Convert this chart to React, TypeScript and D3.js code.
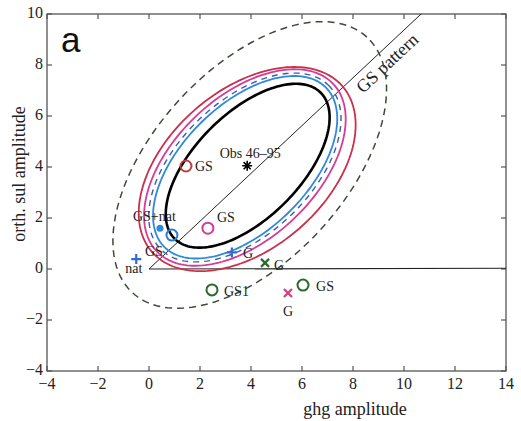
import React from "react";
import * as d3 from "d3";

// ---- data ----
const xTicks = [-4, -2, 0, 2, 4, 6, 8, 10, 12, 14];
const yTicks = [-4, -2, 0, 2, 4, 6, 8, 10];

// ellipses: centre, semi-major, semi-minor, angle(deg)
const ellipseNames = ["outer", "red", "magenta", "blueDashed", "blue", "black"];
const ellipseCx = [3.95, 3.85, 3.76, 3.76, 3.77, 3.87];
const ellipseCy = [4.08, 3.92, 3.98, 3.98, 3.99, 4.05];
const ellipseA = [6.8, 4.95, 4.77, 4.6, 4.45, 4.05];
const ellipseB = [3.76, 3.1, 2.78, 2.6, 2.46, 2.06];
const ellipseAng = [47.5, 41, 43.5, 44, 44.5, 45];

// GS pattern line & zero line
const gsLine = [[0, 0], [10.67, 10]];
const zeroLine = [[0, 0], [14, 0.03]];

// markers
const points = [
  { id: "obs", x: 3.85, y: 4.05, label: "Obs 46–95" },
  { id: "gsRed", x: 1.45, y: 4.04, label: "GS" },
  { id: "gsMag", x: 2.31, y: 1.6, label: "GS" },
  { id: "gsNat", x: 0.43, y: 1.6, label: "GS+nat" },
  { id: "gsBlue", x: 0.9, y: 1.33, label: "GS" },
  { id: "natBlue", x: -0.5, y: 0.39, label: "nat" },
  { id: "gBlue", x: 3.25, y: 0.65, label: "G" },
  { id: "gGreen", x: 4.55, y: 0.24, label: "G" },
  { id: "gs1Green", x: 2.47, y: -0.82, label: "GS1" },
  { id: "gsGreen", x: 6.04, y: -0.63, label: "GS" },
  { id: "gMag", x: 5.45, y: -0.94, label: "G" },
];

// ---- styles ----
const ellipseStyle: Record<string, { c: string; w: number; dash?: string }> = {
  outer: { c: "#3c4a3a", w: 1.5, dash: "7,5" },
  red: { c: "#c9304c", w: 1.8 },
  magenta: { c: "#d43c96", w: 1.8 },
  blueDashed: { c: "#3a5cb0", w: 1.4, dash: "6,5" },
  blue: { c: "#2e8ad8", w: 1.8 },
  black: { c: "#000000", w: 2.6 },
};

const markerStyle: Record<string, { kind: string; c: string; dx: number; dy: number; anchor?: string }> = {
  obs: { kind: "star", c: "#000", dx: 3, dy: -8, anchor: "middle" },
  gsRed: { kind: "circle", c: "#b8403a", dx: 9, dy: 5 },
  gsMag: { kind: "circle", c: "#d43c96", dx: 9, dy: -6 },
  gsNat: { kind: "dot", c: "#2e8ad8", dx: -27, dy: -7 },
  gsBlue: { kind: "circle", c: "#2e7ad8", dx: -27, dy: 21 },
  natBlue: { kind: "plus", c: "#2e6ad0", dx: -11, dy: 14 },
  gBlue: { kind: "plus", c: "#3a6ad0", dx: 11, dy: 6 },
  gGreen: { kind: "x", c: "#2a6a2a", dx: 9, dy: 7 },
  gs1Green: { kind: "circle", c: "#2a6a2a", dx: 12, dy: 6 },
  gsGreen: { kind: "circle", c: "#2a6a2a", dx: 13, dy: 6 },
  gMag: { kind: "x", c: "#d43c80", dx: 0, dy: 23, anchor: "middle" },
};

const W = 521;
const H = 421;
const serif = "'Liberation Serif', 'DejaVu Serif', serif";

export default function App() {
  const x = d3.scaleLinear().domain([-4, 14]).range([47, 506]);
  const y = d3.scaleLinear().domain([-4, 10]).range([371, 14]);

  const line = d3
    .line<[number, number]>()
    .x((d) => x(d[0]))
    .y((d) => y(d[1]));

  const ellipsePath = (i: number) => {
    const th = (ellipseAng[i] * Math.PI) / 180;
    const pts: [number, number][] = d3.range(0, 361, 2).map((deg) => {
      const t = (deg * Math.PI) / 180;
      const u = ellipseA[i] * Math.cos(t);
      const v = ellipseB[i] * Math.sin(t);
      return [
        ellipseCx[i] + u * Math.cos(th) - v * Math.sin(th),
        ellipseCy[i] + u * Math.sin(th) + v * Math.cos(th),
      ];
    });
    return line(pts) + "Z";
  };

  const gsAngle =
    (Math.atan2(y(gsLine[0][1]) - y(gsLine[1][1]), x(gsLine[1][0]) - x(gsLine[0][0])) * 180) / Math.PI;

  const marker = (p: (typeof points)[number]) => {
    const s = markerStyle[p.id];
    const px = x(p.x);
    const py = y(p.y);
    let g: React.ReactNode = null;
    if (s.kind === "circle") {
      g = <circle cx={px} cy={py} r={5.5} fill="none" stroke={s.c} strokeWidth={2} />;
    } else if (s.kind === "dot") {
      g = <circle cx={px} cy={py} r={3.5} fill={s.c} />;
    } else if (s.kind === "plus") {
      g = (
        <path d={`M${px - 5},${py}H${px + 5}M${px},${py - 5}V${py + 5}`} stroke={s.c} strokeWidth={2.2} />
      );
    } else if (s.kind === "x") {
      g = (
        <path
          d={`M${px - 4},${py - 4}L${px + 4},${py + 4}M${px - 4},${py + 4}L${px + 4},${py - 4}`}
          stroke={s.c}
          strokeWidth={2.2}
        />
      );
    } else if (s.kind === "star") {
      const arms = d3.range(0, 180, 45).map((a) => {
        const r = (a * Math.PI) / 180;
        return `M${px - 5 * Math.cos(r)},${py - 5 * Math.sin(r)}L${px + 5 * Math.cos(r)},${py + 5 * Math.sin(r)}`;
      });
      g = <path d={arms.join("")} stroke="#000" strokeWidth={1.6} />;
    }
    return (
      <g key={p.id}>
        {g}
        <text
          x={px + s.dx}
          y={py + s.dy}
          fontFamily={serif}
          fontSize={14}
          textAnchor={s.anchor || "start"}
          fill="#222"
        >
          {p.label}
        </text>
      </g>
    );
  };

  const [x0, x1] = x.range();
  const [y0, y1] = y.range();
  const axisColor = "#555";

  return (
    <svg width={W} height={H} style={{ position: "absolute", left: 0, top: 0, background: "#fff" }}>
      <rect x={0} y={0} width={W} height={H} fill="#fff" />
      {/* frame */}
      <rect x={x0} y={y1} width={x1 - x0} height={y0 - y1} fill="none" stroke={axisColor} strokeWidth={1.3} />
      {xTicks.map((t) => (
        <g key={"xt" + t}>
          <line x1={x(t)} x2={x(t)} y1={y0} y2={y0 - 5} stroke={axisColor} strokeWidth={1.2} />
          <line x1={x(t)} x2={x(t)} y1={y1} y2={y1 + 5} stroke={axisColor} strokeWidth={1.2} />
          <text x={x(t)} y={y0 + 18} textAnchor="middle" fontFamily={serif} fontSize={16} fill="#222">
            {t < 0 ? "−" + Math.abs(t) : t}
          </text>
        </g>
      ))}
      {yTicks.map((t) => (
        <g key={"yt" + t}>
          <line x1={x0} x2={x0 + 5} y1={y(t)} y2={y(t)} stroke={axisColor} strokeWidth={1.2} />
          <line x1={x1} x2={x1 - 5} y1={y(t)} y2={y(t)} stroke={axisColor} strokeWidth={1.2} />
          <text x={x0 - 4} y={y(t) + 4} textAnchor="end" fontFamily={serif} fontSize={16} fill="#222">
            {t < 0 ? "−" + Math.abs(t) : t}
          </text>
        </g>
      ))}
      {/* axis labels */}
      <text x={355} y={415} textAnchor="middle" fontFamily={serif} fontSize={18} fill="#222">
        ghg amplitude
      </text>
      <text
        transform={`translate(25,174) rotate(-90)`}
        textAnchor="middle"
        fontFamily={serif}
        fontSize={18}
        fill="#222"
      >
        orth. sul amplitude
      </text>
      <text x={61} y={52} fontFamily="'Liberation Sans', Arial, sans-serif" fontSize={35} fill="#111">
        a
      </text>

      {/* lines */}
      <path d={line(gsLine as [number, number][]) || ""} stroke="#222" strokeWidth={1} fill="none" />
      <path d={line(zeroLine as [number, number][]) || ""} stroke="#222" strokeWidth={1.2} fill="none" />
      <text
        transform={`translate(${x(9.5)},${y(7.9)}) rotate(${-gsAngle})`}
        textAnchor="middle"
        fontFamily={serif}
        fontSize={18}
        fill="#222"
      >
        GS pattern
      </text>

      {/* ellipses */}
      {ellipseNames.map((n, i) => {
        const s = ellipseStyle[n];
        return (
          <path
            key={n}
            d={ellipsePath(i)}
            fill="none"
            stroke={s.c}
            strokeWidth={s.w}
            strokeDasharray={s.dash}
          />
        );
      })}

      {points.map(marker)}
    </svg>
  );
}
